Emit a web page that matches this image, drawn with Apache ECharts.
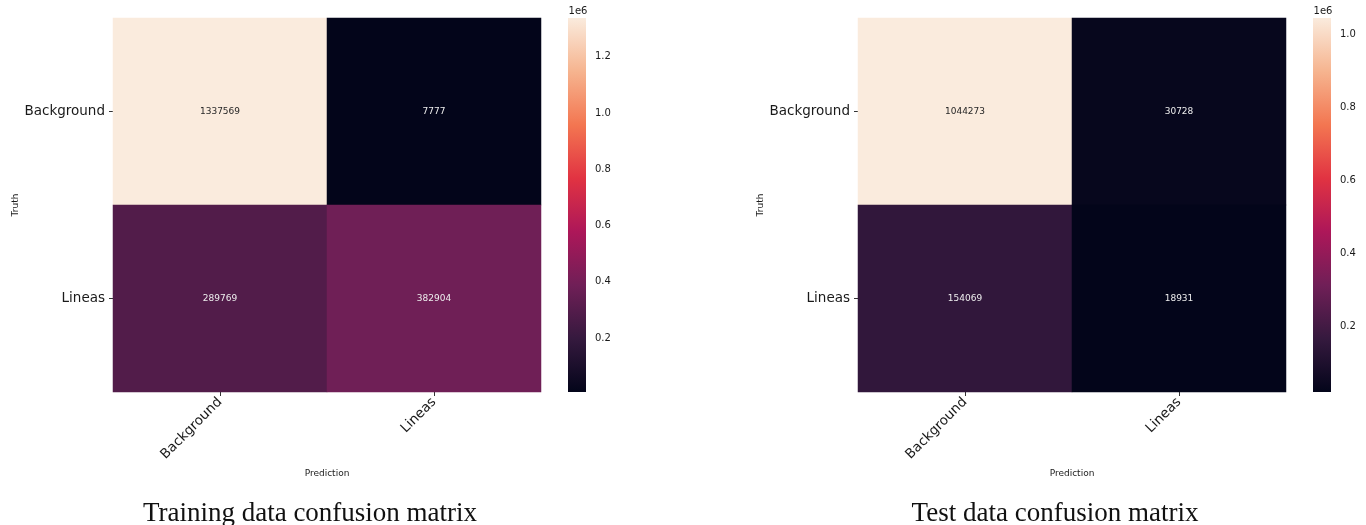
<!DOCTYPE html>
<html>
<head>
<meta charset="utf-8">
<script src="https://cdn.jsdelivr.net/npm/echarts@6/dist/echarts.min.js"></script>
<style>
  html, body { margin: 0; padding: 0; background: #fff; }
  #chart { width: 1366px; height: 525px; }
</style>
</head>
<body>
<div id="chart"></div>
<script>
// Class labels (rows = truth, columns = prediction)
const classes = ['Background', 'Lineas'];

// Confusion matrix counts, [truthIndex][predIndex]
const trainMatrix = [
  [1337569, 7777],
  [289769, 382904]
];
const testMatrix = [
  [1044273, 30728],
  [154069, 18931]
];

// Colorbar tick positions
const trainTicks = [200000, 400000, 600000, 800000, 1000000, 1200000];
const testTicks = [200000, 400000, 600000, 800000, 1000000];

const panelTitles = ['Training data confusion matrix', 'Test data confusion matrix'];

// "rocket" colormap sampled at equal steps
const rocket = ['#03051a', '#35193e', '#701f57', '#ad1759', '#e13342', '#f37651', '#f6b48f', '#faebdd'];

const sansFont = '"DejaVu Sans", sans-serif';
const serifFont = '"Liberation Serif", "DejaVu Serif", serif';

function flatten(m) {
  const out = [];
  m.forEach((row, r) => row.forEach((v, c) => out.push([c, r, v])));
  return out;
}
function range(m) {
  const vals = m.flat();
  return [Math.min(...vals), Math.max(...vals)];
}

const panels = [
  { matrix: trainMatrix, ticks: trainTicks, gridLeft: 113, barLeft: 568, titleX: 305 },
  { matrix: testMatrix, ticks: testTicks, gridLeft: 858, barLeft: 1313, titleX: 1050 }
];

const grid = [], xAxis = [], yAxis = [], series = [], visualMap = [], title = [];

panels.forEach((p, i) => {
  const [vmin, vmax] = range(p.matrix);
  const hg = i * 2, cg = i * 2 + 1;

  grid.push({ left: p.gridLeft, top: 18, width: 428, height: 374 });
  grid.push({ left: p.barLeft, top: 18, width: 18, height: 374 });

  xAxis.push({
    type: 'category', gridIndex: hg, data: classes,
    axisLine: { show: false },
    axisTick: { show: true, alignWithLabel: true, length: 4, lineStyle: { color: '#333' } },
    axisLabel: { rotate: 45, fontSize: 13.5, color: '#1a1a1a', fontFamily: sansFont, margin: 8 },
    name: 'Prediction', nameLocation: 'middle', nameGap: 77,
    nameTextStyle: { fontSize: 9, color: '#1a1a1a', fontFamily: sansFont },
    splitLine: { show: false }
  });
  yAxis.push({
    type: 'category', gridIndex: hg, data: classes, inverse: true,
    axisLine: { show: false },
    axisTick: { show: true, alignWithLabel: true, length: 4, lineStyle: { color: '#333' } },
    axisLabel: { fontSize: 13.5, color: '#1a1a1a', fontFamily: sansFont, margin: 8 },
    name: 'Truth', nameLocation: 'middle', nameGap: 92, nameRotate: 90,
    nameTextStyle: { fontSize: 9, color: '#1a1a1a', fontFamily: sansFont },
    splitLine: { show: false }
  });

  // colorbar axes
  xAxis.push({ type: 'value', gridIndex: cg, min: 0, max: 1, show: false });
  yAxis.push({
    type: 'value', gridIndex: cg, min: vmin, max: vmax, position: 'right',
    axisLine: { show: false },
    splitLine: { show: false },
    axisTick: { show: true, length: 4, customValues: p.ticks, lineStyle: { color: '#333' } },
    axisLabel: {
      customValues: p.ticks, fontSize: 10, color: '#1a1a1a', fontFamily: sansFont, margin: 9,
      formatter: v => (v / 1e6).toFixed(1)
    },
    name: '1e6', nameLocation: 'end', nameGap: 2,
    nameTextStyle: { fontSize: 10, color: '#1a1a1a', fontFamily: sansFont, align: 'center', padding: [0, 0, 0, 20] }
  });

  const data = flatten(p.matrix).map(d => {
    const t = (d[2] - vmin) / (vmax - vmin);
    return { value: d, label: { color: t > 0.6 ? '#262626' : '#eeeeee' } };
  });

  series.push({
    type: 'heatmap', xAxisIndex: hg, yAxisIndex: hg, data,
    label: { show: true, fontSize: 9, fontFamily: sansFont, formatter: q => String(q.value[2]) },
    itemStyle: { borderWidth: 0 },
    emphasis: { disabled: true }
  });
  visualMap.push({
    type: 'continuous', show: false, seriesIndex: series.length - 1, dimension: 2,
    min: vmin, max: vmax, inRange: { color: rocket }
  });

  // colorbar gradient drawn through the colorbar's own value axis
  series.push({
    type: 'custom', xAxisIndex: cg, yAxisIndex: cg, silent: true,
    data: [[0, vmin, 1, vmax]],
    renderItem: (params, api) => {
      const tl = api.coord([api.value(0), api.value(3)]);
      const br = api.coord([api.value(2), api.value(1)]);
      const stops = rocket.map((c, k) => ({ offset: 1 - k / (rocket.length - 1), color: c }));
      return {
        type: 'rect',
        shape: { x: tl[0], y: tl[1], width: br[0] - tl[0], height: br[1] - tl[1] },
        style: { fill: new echarts.graphic.LinearGradient(0, 0, 0, 1, stops.reverse()) }
      };
    }
  });

  title.push({
    text: panelTitles[i], left: p.titleX, top: 495, textAlign: 'center',
    textStyle: { fontFamily: serifFont, fontSize: 27, fontWeight: 'normal', color: '#111' }
  });
});

const chart = echarts.init(document.getElementById('chart'), null, { renderer: 'canvas' });
chart.setOption({
  backgroundColor: '#ffffff',
  animation: false,
  title, grid, xAxis, yAxis, visualMap, series
});
</script>
</body>
</html>
